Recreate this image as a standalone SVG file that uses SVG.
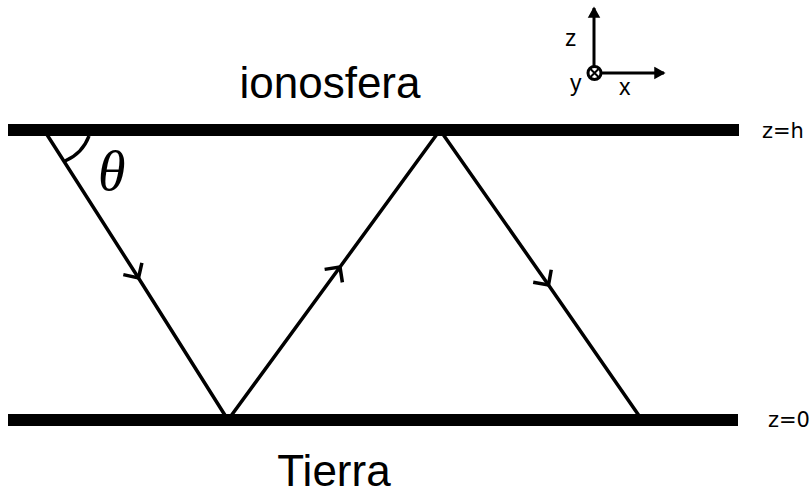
<svg xmlns="http://www.w3.org/2000/svg" width="812" height="494" viewBox="0 0 812 494">
<style>
.bar{fill:#000}
.ray{fill:none;stroke:#000;stroke-width:3.5;stroke-linejoin:miter;marker-mid:url(#half)}
.axis{fill:none;stroke:#000;stroke-width:3}
.big{font-family:"Liberation Sans",Arial,sans-serif;font-size:44px;fill:#000}
.ax{font-family:"Liberation Sans",Arial,sans-serif;font-size:23px;fill:#000}
.lvl{font-family:"DejaVu Sans",sans-serif;font-size:21px;fill:#000}
.th{font-family:"Liberation Serif","Times New Roman",serif;font-style:italic;font-size:56px;fill:#000}
</style>
<defs>
<marker id="half" markerUnits="userSpaceOnUse" orient="auto" viewBox="-16 -16 32 32" markerWidth="32" markerHeight="32" refX="0" refY="0" overflow="visible">
<path d="M-11,-11 L0,0 L-11,11" fill="none" stroke="#000" stroke-width="3.5"/>
</marker>
<marker id="axh" markerUnits="userSpaceOnUse" orient="auto" viewBox="-12 -8 14 16" markerWidth="14" markerHeight="16" refX="0" refY="0" overflow="visible">
<path d="M-9,-5 L0,0 L-9,5 Z" fill="#000" stroke="#000" stroke-width="1.5" stroke-linejoin="miter"/>
</marker>
</defs>
<rect width="812" height="494" fill="#fff"/>
<g id="ionosphere">
<rect class="bar" x="8" y="124" width="731" height="12"/>
<text class="big" x="330" y="98" text-anchor="middle">ionosfera</text>
<text class="lvl" x="762" y="138">z=h</text>
</g>
<g id="earth">
<rect class="bar" x="8" y="414" width="730" height="12"/>
<text class="big" x="334" y="486" text-anchor="middle">Tierra</text>
<text class="lvl" x="768" y="427">z=0</text>
</g>
<g id="angle">
<path d="M89,136 A44,44 0 0 1 65,161" fill="none" stroke="#000" stroke-width="3.5"/>
<text class="th" x="98" y="190">θ</text>
</g>
<g id="axes">
<line class="axis" x1="594" y1="66" x2="594" y2="8" marker-end="url(#axh)"/>
<line class="axis" x1="601" y1="73" x2="664" y2="73" marker-end="url(#axh)"/>
<circle cx="594.5" cy="73" r="6.5" fill="#fff" stroke="#000" stroke-width="3"/>
<path d="M590.5,69 L598.5,77 M598.5,69 L590.5,77" stroke="#000" stroke-width="2"/>
<text class="ax" x="565" y="46">z</text>
<text class="ax" x="570" y="91">y</text>
<text class="ax" x="619" y="95">x</text>
</g>
<g id="connectors">
<path class="ray" d="M44,130 L138.5,278 L228,420"/>
<path class="ray" d="M228,420 L340,267 L440,130"/>
<path class="ray" d="M440,130 L548.5,285 L642,420"/>
</g>
</svg>
